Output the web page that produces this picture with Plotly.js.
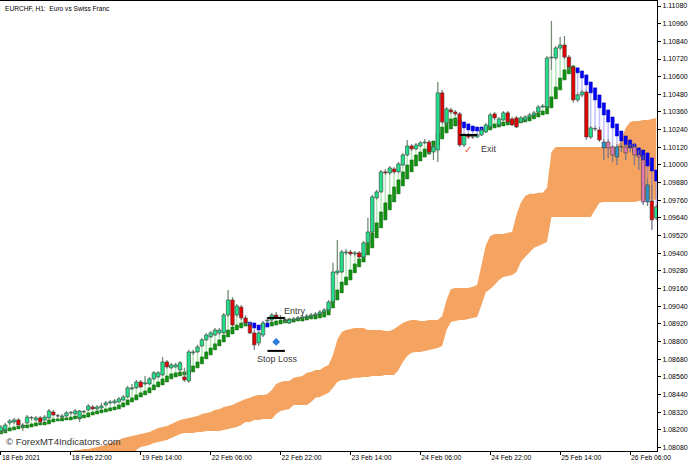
<!DOCTYPE html>
<html><head><meta charset="utf-8">
<script src="https://cdn.plot.ly/plotly-3.0.1.min.js"></script>
<style>html,body{margin:0;padding:0;background:#fff;}#chart{width:696px;height:463px;}</style>
</head><body><div id="chart"></div>
<script>
// ---- EURCHF H1 bars (index 0 = 18 Feb 06:00) ----
const tickIdx = [0,16,32,48,64,80,96,112,128,144];
const tickText = ['18 Feb 2021','18 Feb 22:00','19 Feb 14:00','22 Feb 06:00','22 Feb 22:00','23 Feb 14:00','24 Feb 06:00','24 Feb 22:00','25 Feb 14:00','26 Feb 06:00'];

const open = [1.08193,1.08200,1.08248,1.08254,1.08268,1.08227,1.08248,1.08282,1.08268,1.08282,
1.08268,1.08282,1.08322,1.08295,1.08288,1.08295,1.08316,1.08309,1.08282,1.08322,
1.08336,1.08356,1.08343,1.08350,1.08370,1.08384,1.08384,1.08390,1.08404,1.08424,
1.08479,1.08486,1.08526,1.08513,1.08513,1.08547,1.08560,1.08574,1.08662,1.08622,
1.08628,1.08608,1.08560,1.08533,1.08724,1.08730,1.08771,1.08812,1.08832,1.08845,
1.08859,1.08859,1.08981,1.09083,1.08981,1.09035,1.08961,1.08913,1.08859,1.08791,
1.08845,1.08940,1.08947,1.08981,1.08961,1.08947,1.08927,1.08947,1.08954,1.08961,
1.08967,1.08974,1.08981,1.08988,1.09001,1.09015,1.09069,1.09267,1.09273,1.09403,
1.09409,1.09396,1.09403,1.09375,1.09471,1.09545,1.09776,1.09817,1.09953,1.09946,
1.09973,1.09953,1.10000,1.10068,1.10129,1.10109,1.10129,1.10150,1.10156,1.10088,
1.10102,1.10490,1.10286,1.10374,1.10360,1.10347,1.10136,1.10204,1.10190,1.10190,
1.10204,1.10224,1.10258,1.10347,1.10272,1.10306,1.10354,1.10313,1.10320,1.10292,
1.10306,1.10326,1.10340,1.10360,1.10394,1.10394,1.10727,1.10727,1.10795,1.10815,
1.10733,1.10666,1.10442,1.10476,1.10496,1.10190,1.10245,1.10238,1.10116,1.10156,
1.10123,1.10054,1.10123,1.10123,1.10123,1.10123,1.10068,1.10034,1.09749,1.09756,
1.09641];
const high = [1.08234,1.08248,1.08275,1.08282,1.08282,1.08248,1.08302,1.08295,1.08295,1.08295,
1.08302,1.08343,1.08336,1.08309,1.08309,1.08329,1.08329,1.08343,1.08336,1.08336,
1.08377,1.08370,1.08370,1.08384,1.08397,1.08404,1.08411,1.08424,1.08438,1.08499,
1.08513,1.08540,1.08540,1.08567,1.08560,1.08601,1.08601,1.08696,1.08676,1.08656,
1.08656,1.08669,1.08622,1.08744,1.08744,1.08778,1.08825,1.08859,1.08872,1.08893,
1.08893,1.08995,1.09151,1.09103,1.09056,1.09049,1.08981,1.08933,1.08879,1.08872,
1.08940,1.08967,1.08995,1.09001,1.08981,1.08967,1.08961,1.08967,1.08974,1.08981,
1.08988,1.08995,1.09001,1.09015,1.09029,1.09083,1.09335,1.09491,1.09423,1.09430,
1.09423,1.09416,1.09416,1.09484,1.09641,1.09797,1.09831,1.09966,1.09973,1.09993,
1.09987,1.10020,1.10082,1.10170,1.10143,1.10150,1.10163,1.10177,1.10170,1.10136,
1.10564,1.10510,1.10394,1.10388,1.10374,1.10360,1.10218,1.10218,1.10211,1.10218,
1.10252,1.10286,1.10354,1.10360,1.10326,1.10367,1.10367,1.10326,1.10333,1.10333,
1.10340,1.10354,1.10367,1.10408,1.10415,1.10740,1.10978,1.10808,1.10869,1.10876,
1.10747,1.10680,1.10490,1.10510,1.10510,1.10265,1.10265,1.10258,1.10177,1.10177,
1.10136,1.10143,1.10150,1.10143,1.10143,1.10143,1.10102,1.10068,1.09912,1.09865,
1.09729];
const low = [1.08180,1.08186,1.08234,1.08241,1.08220,1.08193,1.08241,1.08268,1.08261,1.08248,
1.08261,1.08275,1.08295,1.08282,1.08282,1.08288,1.08302,1.08302,1.08254,1.08316,
1.08329,1.08336,1.08336,1.08343,1.08363,1.08377,1.08377,1.08384,1.08397,1.08418,
1.08472,1.08479,1.08486,1.08506,1.08506,1.08540,1.08554,1.08567,1.08615,1.08615,
1.08622,1.08601,1.08526,1.08520,1.08710,1.08724,1.08764,1.08805,1.08825,1.08838,
1.08845,1.08852,1.08967,1.08899,1.08967,1.08947,1.08913,1.08852,1.08744,1.08771,
1.08832,1.08927,1.08933,1.08954,1.08947,1.08933,1.08920,1.08940,1.08947,1.08954,
1.08961,1.08967,1.08974,1.08981,1.08995,1.09008,1.09063,1.09253,1.09267,1.09389,
1.09382,1.09382,1.09362,1.09369,1.09464,1.09539,1.09763,1.09811,1.09932,1.09932,
1.09939,1.09946,1.09993,1.10061,1.10095,1.10102,1.10123,1.10143,1.10068,1.10034,
1.10020,1.10279,1.10272,1.10347,1.10333,1.10123,1.10123,1.10177,1.10177,1.10184,
1.10197,1.10218,1.10252,1.10306,1.10265,1.10299,1.10286,1.10265,1.10252,1.10286,
1.10299,1.10320,1.10333,1.10354,1.10388,1.10388,1.10646,1.10714,1.10781,1.10720,
1.10646,1.10422,1.10428,1.10462,1.10170,1.10177,1.10231,1.10156,1.10034,1.10048,
1.10020,1.10000,1.10088,1.10034,1.10088,1.10000,1.09966,1.09729,1.09722,1.09559,
1.09627];
const close = [1.08220,1.08234,1.08261,1.08268,1.08234,1.08234,1.08288,1.08284,1.08282,1.08254,
1.08288,1.08329,1.08302,1.08297,1.08295,1.08316,1.08318,1.08329,1.08329,1.08324,
1.08363,1.08343,1.08356,1.08363,1.08384,1.08390,1.08397,1.08411,1.08424,1.08486,
1.08486,1.08526,1.08492,1.08520,1.08547,1.08588,1.08588,1.08662,1.08628,1.08642,
1.08642,1.08656,1.08540,1.08730,1.08730,1.08764,1.08812,1.08845,1.08859,1.08879,
1.08879,1.08981,1.09083,1.08913,1.09042,1.08961,1.08927,1.08859,1.08778,1.08859,
1.08927,1.08947,1.08981,1.08967,1.08963,1.08949,1.08947,1.08954,1.08961,1.08967,
1.08974,1.08981,1.08988,1.09001,1.09015,1.09069,1.09273,1.09280,1.09409,1.09409,
1.09396,1.09403,1.09375,1.09471,1.09545,1.09783,1.09817,1.09953,1.09946,1.09980,
1.09953,1.10007,1.10068,1.10129,1.10109,1.10136,1.10150,1.10156,1.10088,1.10123,
1.10490,1.10292,1.10381,1.10360,1.10347,1.10136,1.10204,1.10190,1.10192,1.10204,
1.10238,1.10272,1.10340,1.10320,1.10313,1.10354,1.10292,1.10272,1.10258,1.10320,
1.10326,1.10340,1.10354,1.10394,1.10401,1.10727,1.10733,1.10795,1.10815,1.10733,
1.10666,1.10442,1.10476,1.10496,1.10190,1.10252,1.10247,1.10170,1.10156,1.10116,
1.10068,1.10123,1.10125,1.10082,1.10125,1.10068,1.10054,1.09749,1.09865,1.09627,
1.09715];

// ---- smoothed overlay bars (open / close) ----
const haOpen = [1.08173,1.08180,1.08193,1.08200,1.08207,1.08214,1.08214,1.08220,1.08227,1.08234,
1.08234,1.08241,1.08254,1.08261,1.08261,1.08268,1.08268,1.08275,1.08275,1.08282,
1.08288,1.08302,1.08309,1.08316,1.08322,1.08329,1.08336,1.08343,1.08356,1.08370,
1.08390,1.08404,1.08424,1.08438,1.08452,1.08472,1.08492,1.08506,1.08526,1.08547,
1.08560,1.08567,1.08574,1.08581,1.08594,1.08622,1.08649,1.08683,1.08710,1.08744,
1.08771,1.08798,1.08832,1.08852,1.08879,1.08893,1.08906,1.08933,1.08927,1.08913,
1.08920,1.08927,1.08906,1.08913,1.08920,1.08927,1.08927,1.08933,1.08940,1.08940,
1.08947,1.08954,1.08954,1.08961,1.08967,1.08981,1.09029,1.09083,1.09131,1.09185,
1.09219,1.09267,1.09308,1.09341,1.09389,1.09437,1.09505,1.09573,1.09627,1.09695,
1.09749,1.09804,1.09858,1.09905,1.09953,1.09993,1.10027,1.10054,1.10075,1.10102,
1.10136,1.10177,1.10218,1.10245,1.10265,1.10306,1.10292,1.10279,1.10265,1.10258,
1.10258,1.10231,1.10238,1.10252,1.10258,1.10265,1.10272,1.10279,1.10279,1.10286,
1.10292,1.10299,1.10313,1.10326,1.10340,1.10347,1.10388,1.10449,1.10510,1.10578,
1.10619,1.10633,1.10660,1.10639,1.10612,1.10564,1.10524,1.10476,1.10422,1.10374,
1.10326,1.10279,1.10231,1.10197,1.10170,1.10143,1.10116,1.10102,1.10082,1.10048,
1.09966];
const haClose = [1.08200,1.08207,1.08214,1.08220,1.08227,1.08227,1.08234,1.08241,1.08248,1.08248,
1.08254,1.08268,1.08275,1.08275,1.08282,1.08282,1.08288,1.08295,1.08295,1.08302,
1.08316,1.08322,1.08329,1.08336,1.08343,1.08350,1.08356,1.08370,1.08384,1.08404,
1.08418,1.08438,1.08452,1.08465,1.08486,1.08506,1.08526,1.08547,1.08567,1.08581,
1.08588,1.08594,1.08594,1.08608,1.08635,1.08662,1.08696,1.08730,1.08757,1.08785,
1.08812,1.08845,1.08879,1.08899,1.08913,1.08927,1.08933,1.08906,1.08893,1.08879,
1.08893,1.08899,1.08933,1.08940,1.08947,1.08947,1.08954,1.08954,1.08961,1.08967,
1.08967,1.08974,1.08981,1.08988,1.09001,1.09029,1.09083,1.09151,1.09205,1.09239,
1.09287,1.09328,1.09362,1.09403,1.09471,1.09539,1.09607,1.09681,1.09743,1.09797,
1.09851,1.09899,1.09953,1.10000,1.10034,1.10068,1.10088,1.10109,1.10129,1.10163,
1.10218,1.10258,1.10292,1.10313,1.10320,1.10272,1.10252,1.10238,1.10231,1.10231,
1.10224,1.10258,1.10272,1.10279,1.10286,1.10292,1.10299,1.10306,1.10306,1.10313,
1.10320,1.10326,1.10340,1.10354,1.10367,1.10401,1.10463,1.10530,1.10591,1.10646,
1.10666,1.10673,1.10626,1.10591,1.10544,1.10490,1.10442,1.10388,1.10340,1.10292,
1.10252,1.10197,1.10163,1.10136,1.10116,1.10088,1.10061,1.10034,1.09993,1.09959,
1.09891];

// ---- orange band (starts at bar 16) ----
const cloudStart = 16;
const cloudTop = [1.08050,1.08064,1.08064,1.08071,1.08071,1.08078,1.08084,1.08091,1.08098,1.08112,
1.08118,1.08132,1.08146,1.08152,1.08159,1.08166,1.08173,1.08180,1.08186,1.08200,
1.08214,1.08220,1.08227,1.08241,1.08254,1.08268,1.08275,1.08282,1.08288,1.08295,
1.08309,1.08316,1.08322,1.08336,1.08343,1.08356,1.08363,1.08370,1.08384,1.08397,
1.08411,1.08418,1.08431,1.08438,1.08438,1.08445,1.08472,1.08513,1.08526,1.08533,
1.08533,1.08554,1.08560,1.08567,1.08588,1.08594,1.08608,1.08608,1.08628,1.08642,
1.08710,1.08812,1.08866,1.08879,1.08886,1.08893,1.08893,1.08893,1.08879,1.08879,
1.08879,1.08879,1.08872,1.08872,1.08886,1.08906,1.08927,1.08940,1.08947,1.08947,
1.08940,1.08940,1.08947,1.08947,1.08947,1.08974,1.09083,1.09158,1.09165,1.09165,
1.09165,1.09165,1.09172,1.09185,1.09321,1.09457,1.09518,1.09532,1.09532,1.09532,
1.09539,1.09545,1.09661,1.09743,1.09790,1.09804,1.09804,1.09811,1.09811,1.09845,
1.10088,1.10123,1.10123,1.10123,1.10123,1.10123,1.10123,1.10123,1.10123,1.10123,
1.10123,1.10123,1.10123,1.10123,1.10123,1.10123,1.10170,1.10252,1.10292,1.10299,
1.10299,1.10306,1.10306,1.10313,1.10320];
const cloudBot = [1.07997,1.07997,1.07997,1.07997,1.07997,1.07997,1.07997,1.07997,1.07997,1.07997,
1.07997,1.07997,1.07997,1.07997,1.07997,1.08064,1.08084,1.08091,1.08098,1.08112,
1.08118,1.08125,1.08132,1.08146,1.08159,1.08173,1.08180,1.08180,1.08180,1.08186,
1.08186,1.08193,1.08193,1.08193,1.08193,1.08200,1.08207,1.08214,1.08220,1.08234,
1.08254,1.08254,1.08268,1.08268,1.08275,1.08275,1.08275,1.08309,1.08329,1.08336,
1.08343,1.08370,1.08370,1.08370,1.08370,1.08390,1.08418,1.08424,1.08438,1.08452,
1.08486,1.08526,1.08540,1.08540,1.08547,1.08554,1.08554,1.08560,1.08560,1.08567,
1.08567,1.08567,1.08574,1.08574,1.08574,1.08608,1.08662,1.08703,1.08724,1.08730,
1.08730,1.08737,1.08744,1.08751,1.08757,1.08771,1.08879,1.08933,1.08940,1.08947,
1.08947,1.08954,1.08961,1.08967,1.09049,1.09137,1.09158,1.09185,1.09219,1.09239,
1.09246,1.09253,1.09273,1.09341,1.09375,1.09409,1.09437,1.09450,1.09464,1.09477,
1.09647,1.09647,1.09647,1.09647,1.09647,1.09647,1.09647,1.09647,1.09647,1.09647,
1.09695,1.09743,1.09749,1.09749,1.09749,1.09749,1.09749,1.09749,1.09749,1.09749,
1.09756,1.09763,1.09763,1.09763,1.09763];

// ---- trade marks ----
const entryLevel = 1.08961, stopLevel = 1.08737, exitLevel = 1.10204;
const entryBars = [61, 65], exitBars = [105, 109];
const stopMark = {bar: 63, price: 1.08798};
const checkMark = {bar: 107, price: 1.10106};

// ---------------------------------------------------------------
const idx = close.map((_, i) => i);
const cloudX = cloudTop.map((_, k) => k + cloudStart);
const minH = 0.000022;
const XR = [-0.21, 150.17], YR = [1.08057, 1.11114];

function inCloud(i) {
  const k = i - cloudStart;
  if (k < 0 || k >= cloudTop.length) return false;
  const lo = Math.min(open[i], close[i]), hi = Math.max(open[i], close[i]);
  return hi > cloudBot[k] && lo <= cloudTop[k];
}
function rangeBar(lo, hi, w, color) {
  return {x: idx, type: 'bar', width: w, base: lo, y: idx.map(i => hi[i] - lo[i]),
          xaxis: 'x2', yaxis: 'y2', marker: {color: color, line: {width: 0}}, hoverinfo: 'skip'};
}

const haHi = idx.map(i => Math.max(high[i], haOpen[i], haClose[i]));
const haLo = idx.map(i => Math.min(low[i], haOpen[i], haClose[i]));

const traces = [];
// band on the base axes (drawn underneath)
traces.push({x: cloudX, y: cloudBot, type: 'scatter', mode: 'lines', line: {width: 0, color: 'rgba(0,0,0,0)'}, hoverinfo: 'skip'});
traces.push({x: cloudX, y: cloudTop, type: 'scatter', mode: 'lines', fill: 'tonexty', fillcolor: '#F4A460', line: {width: 0, color: 'rgba(0,0,0,0)'}, hoverinfo: 'skip'});
// price marks on overlaying axes (drawn on top of the band)
traces.push(rangeBar(haLo, haHi, 0.36, idx.map(i => haClose[i] >= haOpen[i] ? 'rgba(40,180,40,0.33)' : 'rgba(70,70,255,0.33)')));
traces.push({
  x: idx, type: 'bar', width: 0.74, xaxis: 'x2', yaxis: 'y2',
  base: idx.map(i => Math.min(haOpen[i], haClose[i])),
  y: idx.map(i => Math.max(Math.abs(haClose[i] - haOpen[i]), minH)),
  marker: {color: idx.map(i => haClose[i] >= haOpen[i] ? '#129212' : '#0000FF'),
           line: {color: idx.map(i => haClose[i] >= haOpen[i] ? '#0A660A' : '#0000B0'), width: 0.5}},
  hoverinfo: 'skip'
});
traces.push(rangeBar(low, high, 0.23, '#7C7C7C'));
traces.push({
  x: idx, type: 'bar', width: 0.8, xaxis: 'x2', yaxis: 'y2',
  base: idx.map(i => Math.min(open[i], close[i])),
  y: idx.map(i => Math.max(Math.abs(close[i] - open[i]), minH)),
  marker: {color: idx.map(i => {
      const up = close[i] >= open[i], c = inCloud(i);
      return up ? (c ? '#2E95CC' : '#22E08A') : (c ? '#E47AB5' : '#E80000');
    }),
    line: {color: '#3C3C3C', width: 0.6}},
  hoverinfo: 'skip'
});
traces.push({x: [stopMark.bar], y: [stopMark.price], type: 'scatter', mode: 'markers', xaxis: 'x2', yaxis: 'y2',
  marker: {symbol: 'diamond', size: 6, color: '#2A7BD8'}, hoverinfo: 'skip'});

const lbl = {family: 'Liberation Sans, Arial, sans-serif', size: 9, color: '#3A3A3A'};
const layout = {
  width: 696, height: 463,
  margin: {l: 0, r: 39, t: 1, b: 12, pad: 0},
  paper_bgcolor: '#FFFFFF', plot_bgcolor: '#FFFFFF',
  showlegend: false, barmode: 'overlay', hovermode: false,
  xaxis: {range: XR, tickmode: 'array', tickvals: tickIdx, ticktext: tickText,
    ticks: 'outside', ticklen: 3, tickcolor: '#000', tickwidth: 1,
    showline: true, linecolor: '#000', linewidth: 1, mirror: true,
    showgrid: false, zeroline: false, ticklabelposition: 'outside right',
    tickfont: {family: 'Liberation Sans, Arial, sans-serif', size: 6.8, color: '#000'}},
  yaxis: {side: 'right', range: YR, tick0: 1.1108, dtick: 0.0012, tickformat: '.5f',
    ticks: 'outside', ticklen: 3, tickcolor: '#000',
    showline: true, linecolor: '#000', linewidth: 1, mirror: true,
    showgrid: false, zeroline: false,
    tickfont: {family: 'Liberation Sans, Arial, sans-serif', size: 7, color: '#000'}},
  xaxis2: {overlaying: 'x', range: XR, visible: false, showgrid: false, zeroline: false},
  yaxis2: {overlaying: 'y', range: YR, visible: false, showgrid: false, zeroline: false},
  shapes: [
    {type: 'line', xref: 'x', yref: 'y', x0: entryBars[0], x1: entryBars[1], y0: entryLevel, y1: entryLevel, line: {color: '#000', width: 2}},
    {type: 'line', xref: 'x', yref: 'y', x0: entryBars[0], x1: entryBars[1], y0: stopLevel, y1: stopLevel, line: {color: '#000', width: 2}},
    {type: 'line', xref: 'x', yref: 'y', x0: exitBars[0], x1: exitBars[1], y0: exitLevel, y1: exitLevel, line: {color: '#000', width: 2}}
  ],
  annotations: [
    {xref: 'paper', yref: 'paper', x: 0, y: 1, xshift: 3, yshift: -2, xanchor: 'left', yanchor: 'top', showarrow: false,
      text: 'EURCHF, H1:  Euro vs Swiss Franc', font: {family: 'Liberation Sans, Arial, sans-serif', size: 6.6, color: '#000'}},
    {xref: 'x', yref: 'y', x: 67.3, y: 1.09008, showarrow: false, text: 'Entry', font: lbl},
    {xref: 'x', yref: 'y', x: 63.4, y: 1.08683, showarrow: false, text: 'Stop Loss', font: lbl},
    {xref: 'x', yref: 'y', x: 111.7, y: 1.10109, showarrow: false, text: 'Exit', font: lbl},
    {xref: 'x', yref: 'y', x: checkMark.bar, y: checkMark.price, showarrow: false, text: '✓',
      font: {family: 'DejaVu Sans', size: 10, color: '#E8603A'}},
    {xref: 'paper', yref: 'paper', x: 0, y: 0.022, xshift: 4, xanchor: 'left', yanchor: 'middle', showarrow: false,
      text: '© ForexMT4Indicators.com', font: {family: 'Liberation Sans, Arial, sans-serif', size: 9.5, color: '#333333'}}
  ]
};
Plotly.newPlot('chart', traces, layout, {displayModeBar: false, staticPlot: true});
</script></body></html>
